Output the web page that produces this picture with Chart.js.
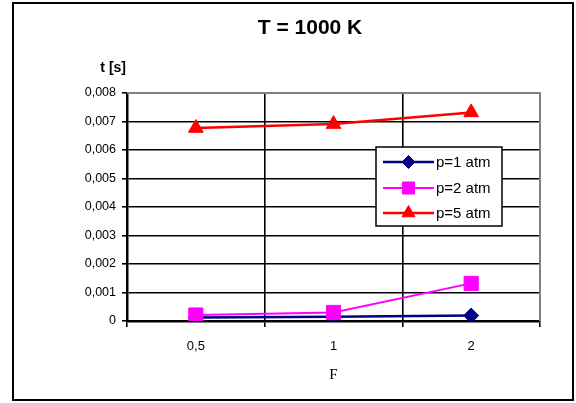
<!DOCTYPE html>
<html>
<head>
<meta charset="utf-8">
<script src="https://cdn.jsdelivr.net/npm/chart.js@4/dist/chart.umd.min.js"></script>
<style>
  html, body { margin: 0; padding: 0; background: #fff; }
  canvas { display: block; }
</style>
</head>
<body>
<canvas id="timeChart" width="576" height="403"></canvas>
<script>
// F values on the category axis
const fLabels = ['0,5', '1', '2'];

// t [s] per pressure
const p1Values = [0.00012, 0.00015, 0.00019];
const p2Values = [0.00021, 0.00030, 0.00132];
const p5Values = [0.00677, 0.00691, 0.00732];

const seriesNames = ['p=1 atm', 'p=2 atm', 'p=5 atm'];
const chartTitle = 'T = 1000 K';
const yTitle = 't [s]';
const xTitle = 'F';

function commaNumber(v) {
  if (Math.abs(v) < 1e-12) return '0';
  return v.toFixed(3).replace('.', ',');
}

// frame, title, y caption, plot border and the boxed legend
const decorPlugin = {
  id: 'decor',
  beforeDatasetsDraw(chart) {
    const ctx = chart.ctx;
    const a = chart.chartArea;
    ctx.save();
    ctx.strokeStyle = '#808080';
    ctx.lineWidth = 2;
    ctx.beginPath();
    ctx.moveTo(a.left, a.top);
    ctx.lineTo(a.right, a.top);
    ctx.lineTo(a.right, a.bottom);
    ctx.stroke();
    ctx.restore();
  },
  afterDraw(chart) {
    const ctx = chart.ctx;
    const a = chart.chartArea;
    ctx.save();

    // outer frame
    ctx.strokeStyle = '#000';
    ctx.lineWidth = 2;
    ctx.strokeRect(13, 3, 560, 397);

    // title
    ctx.fillStyle = '#000';
    ctx.font = 'bold 21px "Liberation Sans", Arial, sans-serif';
    ctx.textAlign = 'center';
    ctx.textBaseline = 'middle';
    ctx.fillText(chartTitle, 310, 28);

    // y caption above the axis
    ctx.font = 'bold 14px "Liberation Sans", Arial, sans-serif';
    ctx.textAlign = 'right';
    ctx.fillText(yTitle, a.left - 1, 68);

    // legend box
    const lx = 376, ly = 147, lw = 126, lh = 79;
    ctx.fillStyle = '#fff';
    ctx.fillRect(lx, ly, lw, lh);
    ctx.strokeStyle = '#000';
    ctx.lineWidth = 1.5;
    ctx.strokeRect(lx, ly, lw, lh);

    const rowY = [162, 188, 213];
    chart.data.datasets.forEach((ds, i) => {
      const y = rowY[i];
      ctx.strokeStyle = ds.borderColor;
      ctx.lineWidth = ds.borderWidth;
      ctx.beginPath();
      ctx.moveTo(383, y);
      ctx.lineTo(434, y);
      ctx.stroke();

      ctx.fillStyle = ds.pointBackgroundColor;
      ctx.strokeStyle = ds.pointBorderColor;
      ctx.lineWidth = 1;
      const opts = { pointStyle: ds.pointStyle, radius: ds.legendRadius, rotation: 0, borderWidth: 1 };
      if (Chart.helpers && Chart.helpers.drawPoint) {
        Chart.helpers.drawPoint(ctx, opts, 408.5, y);
      }

      ctx.fillStyle = '#000';
      ctx.font = '15px "Liberation Sans", Arial, sans-serif';
      ctx.textAlign = 'left';
      ctx.textBaseline = 'middle';
      ctx.fillText(ds.label, 436, y + 1);
    });

    ctx.restore();
  }
};

new Chart(document.getElementById('timeChart').getContext('2d'), {
  type: 'line',
  data: {
    labels: fLabels,
    datasets: [
      {
        label: seriesNames[0],
        data: p1Values,
        borderColor: '#000080',
        borderWidth: 2.5,
        pointStyle: 'rectRot',
        pointRadius: 7.5,
        legendRadius: 6.5,
        pointBackgroundColor: '#000080',
        pointBorderColor: '#000080',
        pointBorderWidth: 1,
        order: 3
      },
      {
        label: seriesNames[1],
        data: p2Values,
        borderColor: '#FF00FF',
        borderWidth: 2,
        pointStyle: 'rect',
        pointRadius: 10,
        legendRadius: 8.5,
        pointBackgroundColor: '#FF00FF',
        pointBorderColor: '#FF00FF',
        pointBorderWidth: 1,
        order: 2
      },
      {
        label: seriesNames[2],
        data: p5Values,
        borderColor: '#FF0000',
        borderWidth: 2.5,
        pointStyle: 'triangle',
        pointRadius: 8.5,
        legendRadius: 7.5,
        pointBackgroundColor: '#FF0000',
        pointBorderColor: '#FF0000',
        pointBorderWidth: 1,
        order: 1
      }
    ]
  },
  options: {
    responsive: false,
    animation: false,
    devicePixelRatio: 1,
    layout: { padding: { top: 93, right: 36, left: 0, bottom: 0 } },
    scales: {
      x: {
        type: 'category',
        offset: true,
        afterFit: function (scale) { scale.height = 82; },
        grid: {
          offset: true,
          color: '#000',
          lineWidth: 1.6,
          tickLength: 6,
          drawOnChartArea: true
        },
        border: { color: '#000', width: 2.5 },
        ticks: {
          color: '#000',
          padding: 12,
          font: { family: '"Liberation Sans", Arial, sans-serif', size: 13 }
        },
        title: {
          display: true,
          text: xTitle,
          color: '#000',
          font: { family: '"Liberation Serif", "Times New Roman", serif', size: 15 },
          padding: { top: 0, bottom: 19 }
        }
      },
      y: {
        min: 0,
        max: 0.008,
        afterFit: function (scale) { scale.width = 127; },
        grid: {
          color: '#000',
          lineWidth: 1.6,
          tickLength: 5
        },
        border: { color: '#000', width: 2.5 },
        ticks: {
          stepSize: 0.001,
          color: '#000',
          padding: 6,
          font: { family: '"Liberation Sans", Arial, sans-serif', size: 12.5 },
          callback: function (value) { return commaNumber(value); }
        }
      }
    },
    plugins: {
      legend: { display: false },
      title: { display: false },
      tooltip: { enabled: false }
    }
  },
  plugins: [decorPlugin]
});
</script>
</body>
</html>
